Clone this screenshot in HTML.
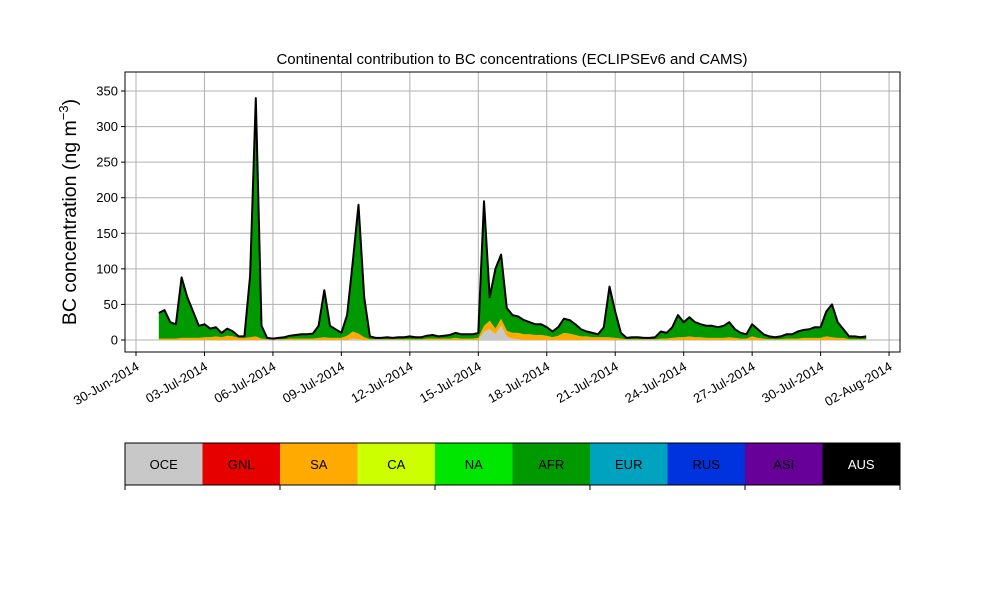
<!DOCTYPE html>
<html><head><meta charset="utf-8"><style>
body{margin:0;background:#fff;}
svg{font-family:"Liberation Sans","DejaVu Sans",sans-serif;}
</style></head><body>
<svg id="chart" width="1000" height="600" xmlns="http://www.w3.org/2000/svg">
<rect width="1000" height="600" fill="#fff"/>
<text x="512" y="64" text-anchor="middle" font-size="15">Continental contribution to BC concentrations (ECLIPSEv6 and CAMS)</text>
<text transform="translate(76,212) rotate(-90)" text-anchor="middle" font-size="19.5">BC concentration (ng m<tspan dy="-8" font-size="13">−3</tspan><tspan dy="8">)</tspan></text>
<g id="grid"></g><g id="marks"></g><g id="axes"></g><g id="legend"></g>
</svg>
<script>
const total=[38,42,25,22,88,60,40,20,22,16,18,10,16,12,5,5,90,340,20,3,2,3,4,6,7,8,8,9,20,70,20,15,10,35,110,190,60,5,3,3,4,3,4,4,5,4,4,6,7,5,6,7,10,8,8,8,10,195,60,100,120,45,35,33,28,25,22,22,18,12,18,30,28,22,15,12,10,8,18,75,40,10,3,4,4,3,3,4,12,10,18,35,25,32,25,22,20,20,18,20,25,15,10,8,22,15,8,5,4,5,8,8,12,14,15,18,18,40,50,25,15,5,5,4,5];
const sa=[2,2,2,2,3,3,3,3,4,4,5,4,6,5,3,3,4,5,2,1,1,1,1,2,2,2,2,2,3,4,3,3,3,6,10,8,4,1,1,1,1,1,1,1,1,1,1,2,2,2,2,2,3,2,2,2,3,8,12,8,10,8,8,9,8,8,7,7,6,4,6,10,9,7,5,5,4,4,4,4,3,2,1,1,1,1,1,1,2,2,3,4,4,5,4,4,3,3,3,3,4,3,2,2,5,3,2,1,1,1,2,2,2,3,3,3,3,5,4,3,3,1,1,1,1];
const oce=[0,0,0,0,0,0,0,0,0,0,0,0,0,0,0,0,0,0,0,0,0,0,0,0,0,0,0,0,0,0,0,0,0,0,2,1,0,0,0,0,0,0,0,0,0,0,0,0,0,0,0,0,0,0,0,0,0,12,15,8,20,5,2,1,0,0,0,0,0,0,0,0,0,0,0,0,0,0,0,0,0,0,0,0,0,0,0,0,0,0,0,0,0,0,0,0,0,0,0,0,0,0,0,0,0,0,0,0,0,0,0,0,0,0,0,0,0,0,0,0,0,0,0,0,0];
const yTicks=[0,50,100,150,200,250,300,350];
const xTickDays=[0,3,6,9,12,15,18,21,24,27,30,33];
const xTickLabels=["30-Jun-2014","03-Jul-2014","06-Jul-2014","09-Jul-2014","12-Jul-2014","15-Jul-2014","18-Jul-2014","21-Jul-2014","24-Jul-2014","27-Jul-2014","30-Jul-2014","02-Aug-2014"];
const legendNames=["OCE","GNL","SA","CA","NA","AFR","EUR","RUS","ASI","AUS"];
const legendColors=["#c8c8c8","#e60000","#ffaa00","#ccff00","#00e600","#009900","#00a3bf","#0033dd","#660099","#000000"];
const NS="http://www.w3.org/2000/svg";
const L=125,R=900,T=72,B=352;
const xs=d=>136+d*22.82;
const xi=i=>xs(1+i*0.25);
const ys=v=>340-v*0.7114;
function mk(tag,attrs,parent){const e=document.createElementNS(NS,tag);for(const k in attrs)e.setAttribute(k,attrs[k]);parent.appendChild(e);return e;}
const grid=document.getElementById('grid'),marks=document.getElementById('marks'),axes=document.getElementById('axes'),leg=document.getElementById('legend');
yTicks.forEach(v=>{const y=ys(v);
 const g=mk('line',{x1:L,x2:R,y1:y,y2:y,stroke:'#b0b0b0','stroke-width':1},grid);
 
 
 const t=mk('line',{x1:L-4,x2:L,y1:y,y2:y,stroke:'#000'},axes);
 
 
 const tx=mk('text',{x:L-7,y:y+4.5,'text-anchor':'end','font-size':13},axes);
 tx.textContent=v;
 
 
});
xTickDays.forEach((d,k)=>{const x=xs(d);
 const g=mk('line',{x1:x,x2:x,y1:T,y2:B,stroke:'#b0b0b0'},grid);
 
 
 const t=mk('line',{x1:x,x2:x,y1:B,y2:B+4,stroke:'#000'},axes);
 
 
 const tx=mk('text',{transform:`translate(${x+4},${B+17}) rotate(-30)`,'text-anchor':'end','font-size':13},axes);
 tx.textContent=xTickLabels[k];
 
 
});
function band(lo,hi,color,name){let p='';
 for(let i=0;i<hi.length;i++)p+=(i?'L':'M')+xi(i).toFixed(1)+','+ys(hi[i]).toFixed(1);
 for(let i=lo.length-1;i>=0;i--)p+='L'+xi(i).toFixed(1)+','+ys(lo[i]).toFixed(1);
 const e=mk('path',{d:p+'Z',fill:color},marks);
 
 
}
const zero=total.map(()=>0);
const c1=oce.slice();
const c2=oce.map((v,i)=>v+sa[i]);
band(zero,c1,'#c8c8c8','oce-area');
band(c1,c2,'#ffaa00','sa-area');
band(c2,total.map((v,i)=>Math.max(v,c2[i])),'#009900','afr-area');
let lp='';total.forEach((v,i)=>lp+=(i?'L':'M')+xi(i).toFixed(1)+','+ys(v).toFixed(1));
const ln=mk('path',{d:lp,fill:'none',stroke:'#000','stroke-width':2,'stroke-linejoin':'round'},marks);


const fr=mk('rect',{x:L,y:T,width:R-L,height:B-T,fill:'none',stroke:'#000'},axes);


const w=(R-L)/legendNames.length;
legendNames.forEach((n,i)=>{
 const r=mk('rect',{x:L+i*w,y:443,width:w,height:42,fill:legendColors[i]},leg);
 
 
 const t=mk('text',{x:L+i*w+w/2,y:469,'text-anchor':'middle','font-size':13,fill:n==='AUS'?'#fff':'#000'},leg);
 t.textContent=n;
 
 
});
const lf=mk('rect',{x:L,y:443,width:R-L,height:42,fill:'none',stroke:'#000'},leg);


for(let i=0;i<=legendNames.length;i+=2){
 const t=mk('line',{x1:L+i*w,x2:L+i*w,y1:485,y2:490,stroke:'#000'},leg);
 
 
}
</script>
</body></html>
